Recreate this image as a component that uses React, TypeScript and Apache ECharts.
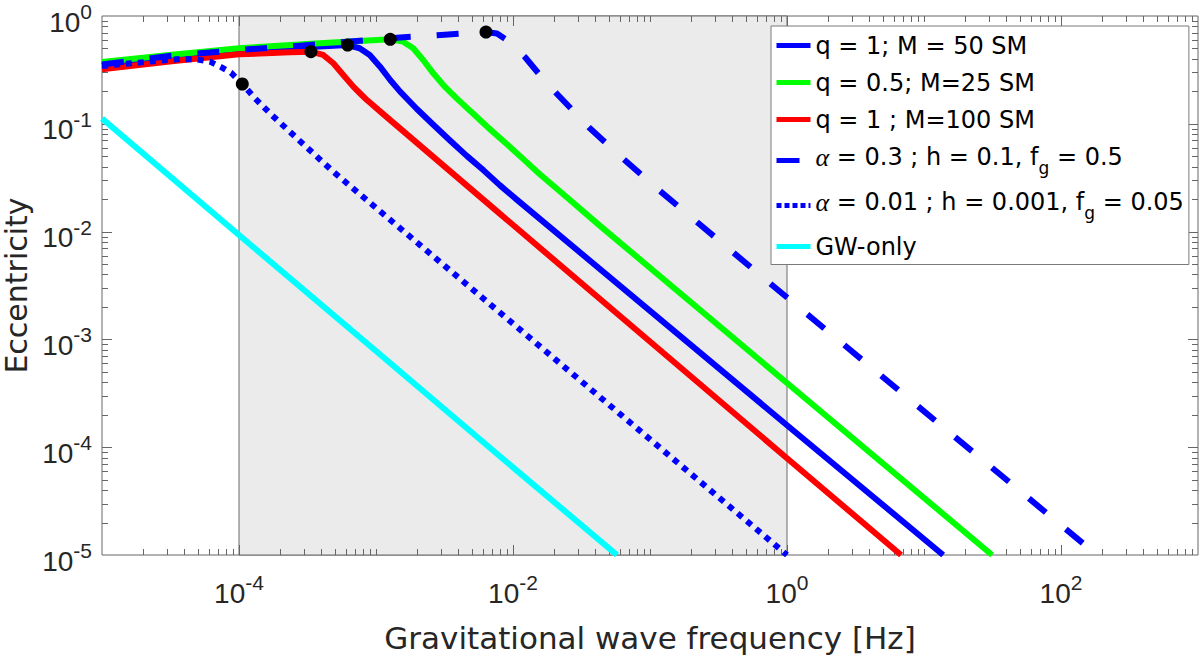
import { useEffect, useRef } from 'react';
import * as echarts from 'echarts';

// axis ranges (log-log)
const xMin = 1e-5;
const xMax = 1e3;
const yMin = 1e-5;
const yMax = 1;
const xLabelExps = [-4, -2, 0, 2];
const yLabelExps = [-5, -4, -3, -2, -1, 0];
const tickMultipliers = [1, 2, 3, 4, 5, 6, 7, 8, 9];

// shaded frequency band
const shadedBand = [1e-4, 1];

const seriesNames = [
  'q = 1; M = 50 SM',
  'q = 0.5; M=25 SM',
  'q = 1 ; M=100 SM',
  'α = 0.3 ; h = 0.1, fg = 0.5',
  'α = 0.01 ; h = 0.001, fg = 0.05',
  'GW-only'
];

// q = 1; M = 50 SM
const freqBlue = [1e-5, 3.1e-5, 1e-4, 2.8e-4, 6.2e-4, 7.6e-4, 9.0e-4, 1.07e-3, 1.27e-3, 1.5e-3, 1.98e-3, 2.62e-3, 3.47e-3, 4.6e-3, 6.1e-3, 8.0e-3, 1.06e-2, 1, 13.8];
const eccBlue = [0.346, 0.408, 0.474, 0.51, 0.538, 0.502, 0.435, 0.339, 0.255, 0.199, 0.138, 0.098, 0.07, 0.0504, 0.037, 0.027, 0.0199, 1.6e-4, 1e-5];

// q = 0.5; M = 25 SM
const freqGreen = [1e-5, 3.1e-5, 1e-4, 3.35e-4, 7.6e-4, 1.27e-3, 1.58e-3, 1.87e-3, 2.21e-3, 2.62e-3, 3.1e-3, 3.88e-3, 5.13e-3, 6.79e-3, 9.0e-3, 1.19e-2, 1.57e-2, 2.47e-2, 4.32e-2, 1, 31.4];
const eccGreen = [0.374, 0.435, 0.502, 0.553, 0.586, 0.608, 0.578, 0.502, 0.391, 0.294, 0.229, 0.172, 0.124, 0.0891, 0.0648, 0.047, 0.0341, 0.0208, 0.0113, 3.94e-4, 1e-5];

// q = 1; M = 100 SM
const freqRed = [1e-5, 3.1e-5, 1e-4, 2.36e-4, 3.35e-4, 4.12e-4, 4.88e-4, 5.77e-4, 6.83e-4, 7.7e-4, 8.55e-4, 1.13e-3, 8.04e-3, 1, 6.8];
const eccRed = [0.32, 0.378, 0.441, 0.461, 0.467, 0.435, 0.364, 0.284, 0.221, 0.19, 0.167, 0.123, 0.0146, 7.9e-5, 1e-5];

// alpha = 0.3 (dashed)
const freqDash = [1e-5, 3.1e-5, 1e-4, 2.8e-4, 6.5e-4, 1.5e-3, 2.98e-3, 6.35e-3, 7.64e-3, 9.5e-3, 1.23e-2, 1.57e-2, 2.08e-2, 3.59e-2, 6.46e-2, 0.116, 0.727, 95, 183];
const eccDash = [0.355, 0.426, 0.484, 0.53, 0.58, 0.632, 0.667, 0.71, 0.688, 0.574, 0.412, 0.284, 0.191, 0.0924, 0.0466, 0.0243, 3.43e-3, 2.0e-5, 1e-5];

// alpha = 0.01 (dotted)
const freqDot = [1e-5, 2.24e-5, 3.71e-5, 4.94e-5, 6.14e-5, 7.47e-5, 8.74e-5, 1.057e-4, 1.31e-4, 1.73e-4, 2.32e-4, 3.12e-4, 4.88e-4, 1e-2, 1];
const eccDot = [0.344, 0.378, 0.399, 0.395, 0.377, 0.334, 0.298, 0.234, 0.172, 0.121, 0.0857, 0.0605, 0.0359, 1.4e-3, 1e-5];

// GW-only
const freqGW = [1e-5, 1e-4, 1e-3, 1e-2, 5.74e-2];
const eccGW = [0.112, 9.3e-3, 7.8e-4, 6.5e-5, 1e-5];

// black markers
const kneeFreq = [1.057e-4, 3.35e-4, 6.21e-4, 1.27e-3, 6.35e-3];
const kneeEcc = [0.234, 0.467, 0.538, 0.608, 0.71];

const axisColor = '#666666';
const textColor = '#262626';

const toPairs = (xs: number[], ys: number[]) => xs.map((x, i) => [x, ys[i]]);

const powerLabel = (exps: number[]) => (value: number) => {
  const e = Math.round(Math.log10(value));
  return exps.includes(e) ? `{b|10}{s|${e}}` : '';
};

const labelRich = {
  b: { fontSize: 28, lineHeight: 42, fontFamily: 'Liberation Sans', color: textColor },
  s: { fontSize: 21, verticalAlign: 'top', fontFamily: 'Liberation Sans', color: textColor }
};

const legendRich: Record<string, string> = {
  [seriesNames[0]]: `{p|${seriesNames[0]}}`,
  [seriesNames[1]]: `{p|${seriesNames[1]}}`,
  [seriesNames[2]]: `{p|${seriesNames[2]}}`,
  [seriesNames[3]]: '{a|α}{t| = 0.3 ; h = 0.1, f}{g|g}{t| = 0.5}',
  [seriesNames[4]]: '{a|α}{t| = 0.01 ; h = 0.001, f}{g|g}{t| = 0.05}',
  [seriesNames[5]]: `{p|${seriesNames[5]}}`
};

const legendItems = [
  { name: seriesNames[0] },
  { name: seriesNames[1] },
  { name: seriesNames[2] },
  { name: seriesNames[3], lineStyle: { width: 5, type: [23, 30], cap: 'butt' } },
  { name: seriesNames[4], lineStyle: { width: 5, type: [5, 3], cap: 'butt' } },
  { name: seriesNames[5] }
];

const lineSeries = (name: string, xs: number[], ys: number[], color: string, type: any = 'solid') => ({
  name,
  type: 'line',
  data: toPairs(xs, ys),
  symbol: 'none',
  lineStyle: { color, width: 6, type, cap: 'butt', join: 'round' },
  itemStyle: { color }
});

const App = () => {
  const chartRef = useRef<HTMLDivElement>(null);

  useEffect(() => {
    if (!chartRef.current) return;

    const chart = echarts.init(chartRef.current, null, { renderer: 'svg' });

    const option = {
      animation: false,
      grid: {
        left: 102,
        right: 2,
        top: 16,
        bottom: 100,
        show: true,
        borderColor: axisColor,
        borderWidth: 1,
        backgroundColor: 'transparent',
        outerBoundsMode: 'none'
      },
      legend: {
        orient: 'vertical',
        left: 771,
        top: 26,
        padding: [7.5, 5, 6, 3],
        itemWidth: 34,
        itemHeight: 14,
        itemGap: 13,
        backgroundColor: '#ffffff',
        borderColor: '#7a7a7a',
        borderWidth: 1,
        selectedMode: false,
        itemStyle: { opacity: 0 },
        lineStyle: { width: 5, cap: 'butt' },
        data: legendItems,
        formatter: (name: string) => legendRich[name],
        textStyle: {
          color: '#000',
          fontFamily: 'DejaVu Sans',
          fontSize: 24,
          rich: {
            p: { fontSize: 24, lineHeight: 27, fontFamily: 'DejaVu Sans', color: '#000' },
            t: { fontSize: 24, lineHeight: 32, verticalAlign: 'top', padding: [0, 0, 0, 0], fontFamily: 'DejaVu Sans', color: '#000' },
            a: { fontSize: 26, verticalAlign: 'top', padding: [0, 0, 0, 0], fontFamily: 'Liberation Serif', fontStyle: 'italic', color: '#000' },
            g: { fontSize: 17, verticalAlign: 'top', padding: [15, 0, 0, 0], fontFamily: 'DejaVu Sans', color: '#000' }
          }
        }
      },
      xAxis: {
        type: 'log',
        logBase: 10,
        min: xMin,
        max: xMax,
        interval: 1,
        name: 'Gravitational wave frequency [Hz]',
        nameLocation: 'middle',
        nameGap: 67,
        nameTextStyle: { fontSize: 31, fontFamily: 'DejaVu Sans', color: textColor },
        axisLine: { show: false },
        axisTick: { show: false },
        splitLine: { show: false },
        axisLabel: { margin: 17, formatter: powerLabel(xLabelExps), rich: labelRich }
      },
      yAxis: {
        type: 'log',
        logBase: 10,
        min: yMin,
        max: yMax,
        interval: 1,
        name: 'Eccentricity',
        nameLocation: 'middle',
        nameGap: 67,
        nameTextStyle: { fontSize: 30, fontFamily: 'DejaVu Sans', color: textColor },
        axisLine: { show: false },
        axisTick: { show: false },
        splitLine: { show: false },
        axisLabel: { margin: 10, padding: [12, 0, 0, 0], formatter: powerLabel(yLabelExps), rich: labelRich }
      },
      series: [
        {
          name: 'band',
          type: 'line',
          data: [],
          markArea: {
            silent: true,
            itemStyle: { color: '#ebebeb', borderColor: '#6b6b6b', borderWidth: 1 },
            data: [[{ xAxis: shadedBand[0] }, { xAxis: shadedBand[1] }]]
          }
        },
        lineSeries(seriesNames[0], freqBlue, eccBlue, '#0000ff'),
        lineSeries(seriesNames[1], freqGreen, eccGreen, '#00ff00'),
        lineSeries(seriesNames[2], freqRed, eccRed, '#ff0000'),
        lineSeries(seriesNames[3], freqDash, eccDash, '#0000ff', [22, 26]),
        lineSeries(seriesNames[4], freqDot, eccDot, '#0000ff', [6, 6]),
        lineSeries(seriesNames[5], freqGW, eccGW, '#00ffff'),
        {
          name: 'knees',
          type: 'scatter',
          data: toPairs(kneeFreq, kneeEcc),
          symbol: 'circle',
          symbolSize: 13,
          itemStyle: { color: '#000', opacity: 1 },
          z: 5
        }
      ]
    };

    chart.setOption(option);

    // MATLAB-style inward ticks on all four sides
    const px = (v: number) => chart.convertToPixel({ xAxisIndex: 0 }, v) as number;
    const py = (v: number) => chart.convertToPixel({ yAxisIndex: 0 }, v) as number;
    const left = px(xMin);
    const right = px(xMax);
    const top = py(yMax);
    const bottom = py(yMin);
    const ticks: any[] = [];
    const addTick = (x1: number, y1: number, x2: number, y2: number) => {
      ticks.push({
        type: 'line',
        z: 3,
        silent: true,
        shape: { x1, y1, x2, y2 },
        style: { stroke: axisColor, lineWidth: 1 }
      });
    };
    for (let e = Math.log10(xMin); e < Math.log10(xMax); e++) {
      tickMultipliers.forEach(k => {
        const v = k * Math.pow(10, e);
        if (v <= xMin * 1.0001 || v >= xMax * 0.9999) return;
        const x = Math.round(px(v)) + 0.5;
        const len = k === 1 && xLabelExps.includes(e) ? 10 : 6;
        addTick(x, bottom, x, bottom - len);
        addTick(x, top, x, top + len);
      });
    }
    for (let e = Math.log10(yMin); e < Math.log10(yMax); e++) {
      tickMultipliers.forEach(k => {
        const v = k * Math.pow(10, e);
        if (v <= yMin * 1.0001 || v >= yMax * 0.9999) return;
        const y = Math.round(py(v)) + 0.5;
        const len = k === 1 ? 10 : 6;
        addTick(left, y, left + len, y);
        addTick(right, y, right - len, y);
      });
    }
    chart.setOption({ graphic: ticks });

    return () => {
      chart.dispose();
    };
  }, []);

  return <div ref={chartRef} style={{ position: 'absolute', left: 0, top: 0, width: 1200, height: 655 }} />;
};

export default App;
